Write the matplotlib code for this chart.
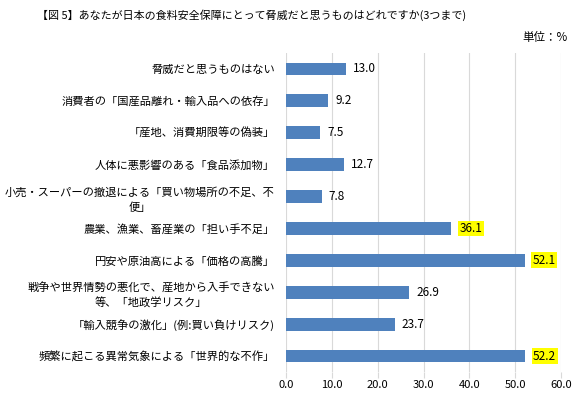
import matplotlib
matplotlib.use("Agg")
import matplotlib.pyplot as plt

plt.rcParams['font.family'] = ['Noto Sans CJK JP', 'DejaVu Sans']

# データ(上から順)
categories = [
    "脅威だと思うものはない",
    "消費者の「国産品離れ・輸入品への依存」",
    "「産地、消費期限等の偽装」",
    "人体に悪影響のある「食品添加物」",
    "小売・スーパーの撤退による「買い物場所の不足、不\n便」",
    "農業、漁業、畜産業の「担い手不足」",
    "円安や原油高による「価格の高騰」",
    "戦争や世界情勢の悪化で、産地から入手できない\n等、「地政学リスク」",
    "「輸入競争の激化」(例:買い負けリスク)",
    "頻繁に起こる異常気象による「世界的な不作」",
]
values = [13.0, 9.2, 7.5, 12.7, 7.8, 36.1, 52.1, 26.9, 23.7, 52.2]
highlight = [False, False, False, False, False, True, True, False, False, True]
xticks = [0, 10, 20, 30, 40, 50, 60]

fig = plt.figure(figsize=(5.86, 3.95), dpi=100)
ax = fig.add_axes([286/586, 1 - 372/395, 275/586, 319/395])

pos = list(range(len(categories)))
ax.barh(pos, values, height=0.4, color="#4f81bd")
ax.set_ylim(len(categories) - 0.5, -0.5)
ax.set_xlim(0, 60)

for p, v, hl in zip(pos, values, highlight):
    if hl:
        ax.text(v + 1.7, p, f"{v:.1f}", va="center", ha="left", fontsize=8.5,
                bbox=dict(facecolor="yellow", edgecolor="none", pad=1))
    else:
        ax.text(v + 1.5, p, f"{v:.1f}", va="center", ha="left", fontsize=8.5)

ax.set_yticks(pos)
ax.set_yticklabels(categories, fontsize=8.1, multialignment="center", linespacing=1.5)
ax.tick_params(axis="y", length=0, pad=8)

ax.set_xticks(xticks)
ax.set_xticklabels([f"{t:.1f}" for t in xticks], fontsize=8)
ax.tick_params(axis="x", length=4, color="#d9d9d9", pad=2)
ax.grid(axis="x", color="#d9d9d9", linewidth=0.8)
ax.set_axisbelow(True)
for s in ax.spines.values():
    s.set_visible(False)

fig.text(37/586, 1 - 15/395, "【図 5】あなたが日本の食料安全保障にとって脅威だと思うものはどれですか(3つまで)",
         fontsize=7.9, va="center", ha="left")
fig.text(568/586, 1 - 38/395, "単位：%", fontsize=8.3, va="center", ha="right")

fig.savefig("out.png", dpi=100)
